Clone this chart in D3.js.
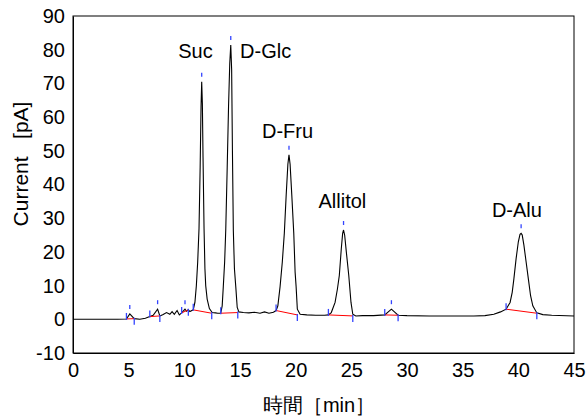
<!DOCTYPE html>
<html>
<head>
<meta charset="utf-8">
<script src="https://cdn.jsdelivr.net/npm/d3@7"></script>
<style>
  body { margin: 0; background: #fff; }
  text { font-family: "Liberation Sans", Arial, sans-serif; fill: #000; }
</style>
</head>
<body>
<svg width="588" height="419"></svg>
<script>
// chromatogram trace: [time (min), current (pA)]
var trace = [
  [0, 0], [2, 0], [4, 0], [4.8, 0.1], [5.1, 1.6], [5.5, 0.2], [6, 0], [6.5, 0.3],
  [6.9, 0.8], [7.2, 1.2], [7.6, 3.0], [7.8, 1.0], [8.1, 1.4], [8.4, 2.0], [8.7, 1.5],
  [8.9, 2.3], [9.1, 1.5], [9.35, 2.6], [9.55, 1.3], [9.76, 1.9], [10.06, 3.0], [10.2, 2.4],
  [10.36, 2.8], [10.5, 2.3], [10.8, 2.8],
  // Suc
  [10.95, 5], [11.08, 10], [11.2, 17], [11.32, 27], [11.42, 45], [11.5, 63], [11.56, 70.5],
  [11.62, 64], [11.68, 48], [11.77, 27], [11.85, 15], [11.92, 10], [12.05, 6], [12.25, 3.2],
  [12.5, 2], [12.8, 1.9], [13, 1.8], [13.27, 1.8],
  // D-Glc
  [13.4, 4], [13.5, 9.7], [13.62, 17], [13.72, 26.5], [13.85, 45], [13.97, 63], [14.08, 76],
  [14.17, 81.4], [14.25, 74], [14.32, 50], [14.4, 26.5], [14.5, 15], [14.62, 9.7], [14.75, 3.5],
  [14.9, 2.2], [15.3, 2.0], [15.8, 1.9], [16.3, 2.1], [16.8, 1.8], [17.2, 2.2], [17.6, 1.8],
  [18, 2.1], [18.24, 2.6],
  // D-Fru
  [18.4, 4], [18.6, 9.7], [18.8, 17], [18.98, 25.5], [19.15, 37], [19.3, 46], [19.4, 48.8],
  [19.5, 46], [19.65, 37], [19.83, 25.5], [19.95, 14], [20.04, 9.7], [20.15, 3], [20.4, 1.5],
  [21, 1.3], [21.8, 1.2], [22.6, 1.2], [22.94, 1.3],
  // Allitol
  [23.2, 2], [23.54, 5], [23.75, 9], [23.92, 13], [24.1, 21], [24.22, 25.5], [24.3, 26.5],
  [24.4, 25], [24.55, 20], [24.77, 13], [24.97, 5], [25.13, 1.5], [25.4, 1.0], [26, 1.1],
  [27, 1.1], [28, 1.3], [28.6, 3.0], [29.2, 1.2], [30, 1.1], [32, 1.0], [34, 1.0], [36, 1.0],
  [37, 1.1], [37.8, 1.5], [38.4, 2.2], [38.9, 3.0],
  // D-Alu
  [39.26, 5], [39.45, 8], [39.6, 12], [39.8, 18], [40, 23], [40.15, 25.2], [40.25, 25.5],
  [40.35, 25], [40.5, 22], [40.7, 17], [40.9, 12], [41.1, 7], [41.3, 4], [41.66, 1.9],
  [42.2, 1.4], [43, 1.2], [45, 1.0]
];

// integration marks: start, end, apex (time, current)
var marks = [
  {s: [4.8, 0.1], e: [5.5, 0.2], a: [5.1, 1.6]},
  {s: [6.9, 0.8], e: [7.8, 1.0], a: [7.6, 3.0]},
  {s: [9.76, 1.9], e: [10.36, 2.8], a: [10.06, 3.0]},
  {s: [10.8, 2.8], e: [12.46, 1.8], a: [11.56, 70.5]},
  {s: [13.27, 1.8], e: [14.8, 2.0], a: [14.17, 81.4]},
  {s: [18.24, 2.6], e: [20.15, 1.3], a: [19.4, 48.8]},
  {s: [22.94, 1.3], e: [25.13, 1.0], a: [24.3, 26.5]},
  {s: [28.0, 1.3], e: [29.2, 1.2], a: [28.6, 3.0]},
  {s: [38.9, 3.0], e: [41.66, 1.8], a: [40.25, 25.5]}
];

var peakNames = ["Suc", "D-Glc", "D-Fru", "Allitol", "D-Alu"];
var peakLabelAt = [[11.0, 77.6], [17.3, 77.6], [19.27, 53.8], [24.2, 33], [39.87, 30.4]];

var xTicks = [0, 5, 10, 15, 20, 25, 30, 35, 40, 45];
var yTicks = [-10, 0, 10, 20, 30, 40, 50, 60, 70, 80, 90];

var svg = d3.select("svg"),
    margin = {left: 73, right: 14, top: 16, bottom: 66},
    width = 588 - margin.left - margin.right,
    height = 419 - margin.top - margin.bottom;

var x = d3.scaleLinear().domain([0, 45]).range([0, width]);
var y = d3.scaleLinear().domain([-10, 90]).range([height, 0]);

var g = svg.append("g")
    .attr("transform", "translate(" + margin.left + "," + margin.top + ")");

// frame
g.append("rect")
    .attr("width", width).attr("height", height)
    .attr("fill", "none").attr("stroke", "#000").attr("stroke-width", 1);

var plain = function(d) { return String(d); };
var xAxis = g.append("g")
    .attr("transform", "translate(0," + height + ")")
    .call(d3.axisBottom(x).tickValues(xTicks).tickFormat(plain).tickSize(0).tickPadding(10));
var yAxis = g.append("g")
    .call(d3.axisLeft(y).tickValues(yTicks).tickFormat(plain).tickSize(0).tickPadding(8));
[xAxis, yAxis].forEach(function(a) {
    a.select(".domain").attr("stroke", "#000");
    a.selectAll("text").attr("font-size", 20)
        .attr("font-family", "'Liberation Sans', Arial, sans-serif");
});

// trace
g.append("path")
    .datum(trace)
    .attr("fill", "none")
    .attr("stroke", "#000")
    .attr("stroke-width", 1.1)
    .attr("d", d3.line().x(function(d) { return x(d[0]); }).y(function(d) { return y(d[1]); }));

// baselines
g.selectAll(".base").data(marks).enter().append("line")
    .attr("x1", function(d) { return x(d.s[0]); }).attr("y1", function(d) { return y(d.s[1]); })
    .attr("x2", function(d) { return x(d.e[0]); }).attr("y2", function(d) { return y(d.e[1]); })
    .attr("stroke", "#f00").attr("stroke-width", 1);

// blue ticks
var blue = "#3344ff";
g.selectAll(".ts").data(marks).enter().append("line")
    .attr("x1", function(d) { return x(d.s[0]); }).attr("x2", function(d) { return x(d.s[0]); })
    .attr("y1", function(d) { return y(d.s[1]) - 6; }).attr("y2", function(d) { return y(d.s[1]) + 1; })
    .attr("stroke", blue).attr("stroke-width", 1.3);
g.selectAll(".te").data(marks).enter().append("line")
    .attr("x1", function(d) { return x(d.e[0]); }).attr("x2", function(d) { return x(d.e[0]); })
    .attr("y1", function(d) { return y(d.e[1]) - 1; }).attr("y2", function(d) { return y(d.e[1]) + 6; })
    .attr("stroke", blue).attr("stroke-width", 1.3);
g.selectAll(".ta").data(marks).enter().append("line")
    .attr("x1", function(d) { return x(d.a[0]); }).attr("x2", function(d) { return x(d.a[0]); })
    .attr("y1", function(d) { return y(d.a[1]) - 9; }).attr("y2", function(d) { return y(d.a[1]) - 5; })
    .attr("stroke", blue).attr("stroke-width", 1.3);

// peak names
g.selectAll(".pl").data(peakNames).enter().append("text")
    .attr("x", function(d, i) { return x(peakLabelAt[i][0]); })
    .attr("y", function(d, i) { return y(peakLabelAt[i][1]); })
    .attr("text-anchor", "middle")
    .attr("font-size", 20)
    .text(function(d) { return d; });

// axis titles
svg.append("text")
    .attr("transform", "translate(28,164) rotate(-90)")
    .attr("text-anchor", "middle")
    .attr("font-size", 21)
    .style("white-space", "pre")
    .text("Current   [pA]");
svg.append("text")
    .attr("x", 319)
    .attr("y", 412)
    .attr("text-anchor", "middle")
    .attr("font-size", 20)
    .attr("font-family", "'Liberation Sans', 'Noto Sans CJK JP', sans-serif")
    .text("時間［min］");
</script>
</body>
</html>
